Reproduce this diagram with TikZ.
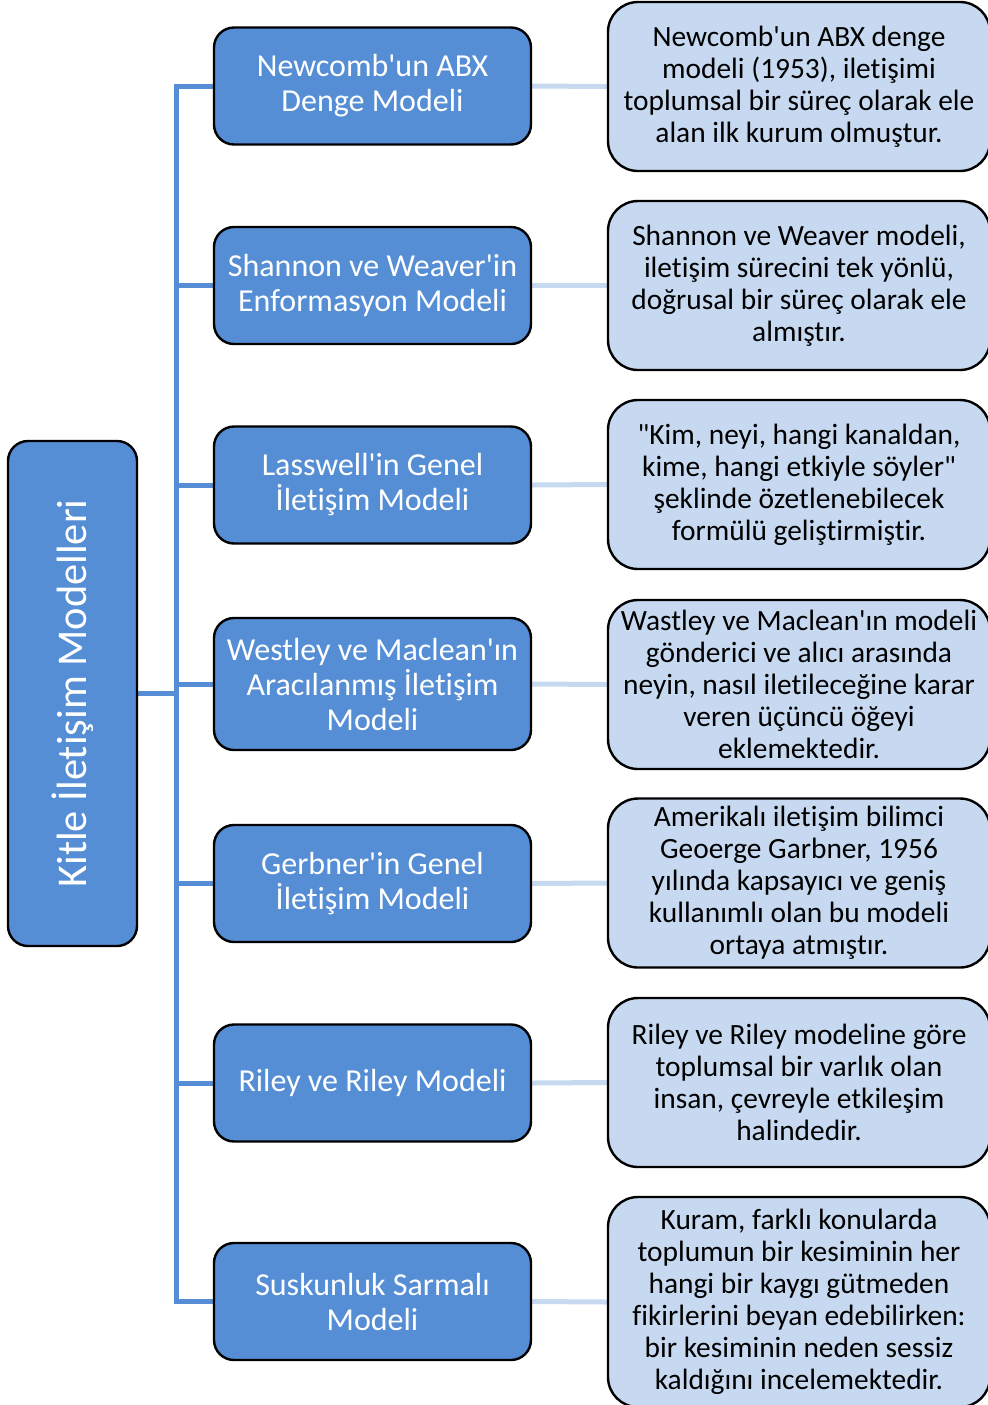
\documentclass[tikz,border=0pt]{standalone}
\usepackage{fontspec}
\setmainfont{Carlito}[Ligatures={TeXOff,NoCommon}]
\usetikzlibrary{backgrounds}
\definecolor{mainblue}{HTML}{558ED5}
\definecolor{paleblue}{HTML}{C6D9F1}
\tikzset{
  rootbox/.style={draw=black, line width=1.2pt, fill=mainblue, rounded corners=10pt,
    minimum width=64.5pt, minimum height=252.5pt, inner sep=0pt},
  modelbox/.style={draw=black, line width=1.2pt, fill=mainblue, rounded corners=10pt,
    minimum width=158.5pt, minimum height=58.5pt, inner sep=2pt, text=white,
    align=center, font=\fontsize{16}{17.5}\selectfont},
  notebox/.style={draw=black, line width=1.2pt, fill=paleblue, rounded corners=15pt,
    minimum width=191pt, minimum height=84.5pt, inner sep=2pt, text=black,
    align=center, font=\fontsize{14.7}{16}\selectfont},
  trunk/.style={draw=mainblue, line width=2.5pt},
  twig/.style={draw=paleblue, line width=2.5pt},
}
\begin{document}
\begin{tikzpicture}[x=0.5pt, y=-0.5pt]
\useasboundingbox (0,0) rectangle (987,1405);

\node[rootbox] (root) at (72.5,693.5) {};
\node[rotate=90, text=white, font=\fontsize{21.2}{25}\selectfont] (roottxt) at (root.center) {Kitle İletişim Modelleri};

\node[modelbox] (m1) at (372.5,86)   {Newcomb'un ABX\\Denge Modeli};
\node[modelbox] (m2) at (372.5,285.5) {Shannon ve Weaver'in\\Enformasyon Modeli};
\node[modelbox] (m3) at (372.5,485)  {Lasswell'in Genel\\İletişim Modeli};
\node[modelbox, minimum height=66pt] (m4) at (372.5,684) {Westley ve Maclean'ın\\Aracılanmış İletişim\\Modeli};
\node[modelbox] (m5) at (372.5,883.5) {Gerbner'in Genel\\İletişim Modeli};
\node[modelbox] (m6) at (372.5,1083) {Riley ve Riley Modeli};
\node[modelbox] (m7) at (372.5,1301.5) {Suskunluk Sarmalı\\Modeli};

\node[notebox] (r1) at (799,86.5) {Newcomb'un ABX denge\\modeli (1953), iletişimi\\toplumsal bir süreç olarak ele\\alan ilk kurum olmuştur.};
\node[notebox] (r2) at (799,285.5) {Shannon ve Weaver modeli,\\iletişim sürecini tek yönlü,\\doğrusal bir süreç olarak ele\\almıştır.};
\node[notebox] (r3) at (799,484.5) {"Kim, neyi, hangi kanaldan,\\kime, hangi etkiyle söyler"\\şeklinde özetlenebilecek\\formülü geliştirmiştir.};
\node[notebox] (r4) at (799,684.5) {Wastley ve Maclean'ın modeli\\gönderici ve alıcı arasında\\neyin, nasıl iletileceğine karar\\veren üçüncü öğeyi\\eklemektedir.};
\node[notebox] (r5) at (799,883) {Amerikalı iletişim bilimci\\Geoerge Garbner, 1956\\yılında kapsayıcı ve geniş\\kullanımlı olan bu modeli\\ortaya atmıştır.};
\node[notebox] (r6) at (799,1082.5) {Riley ve Riley modeline göre\\toplumsal bir varlık olan\\insan, çevreyle etkileşim\\halindedir.};
\node[notebox, minimum height=105pt] (r7) at (799,1302) {Kuram, farklı konularda\\toplumun bir kesiminin her\\hangi bir kaygı gütmeden\\fikirlerini beyan edebilirken:\\bir kesiminin neden sessiz\\kaldığını incelemektedir.};

\coordinate (ttop) at (176,86);
\coordinate (tbot) at (176,1301.5);

\begin{pgfonlayer}{background}
  \draw[trunk] (m1.west) -- (ttop) -- (tbot) -- (m7.west);
  \foreach \i in {2,...,6} {\draw[trunk] (m\i.west) -- (m\i.west -| ttop);}
  \draw[trunk] (root.east) -- (root.east -| ttop);
  \foreach \i in {1,...,7} {\draw[twig] (m\i.east) -- (r\i.west);}
\end{pgfonlayer}
\end{tikzpicture}
\end{document}
